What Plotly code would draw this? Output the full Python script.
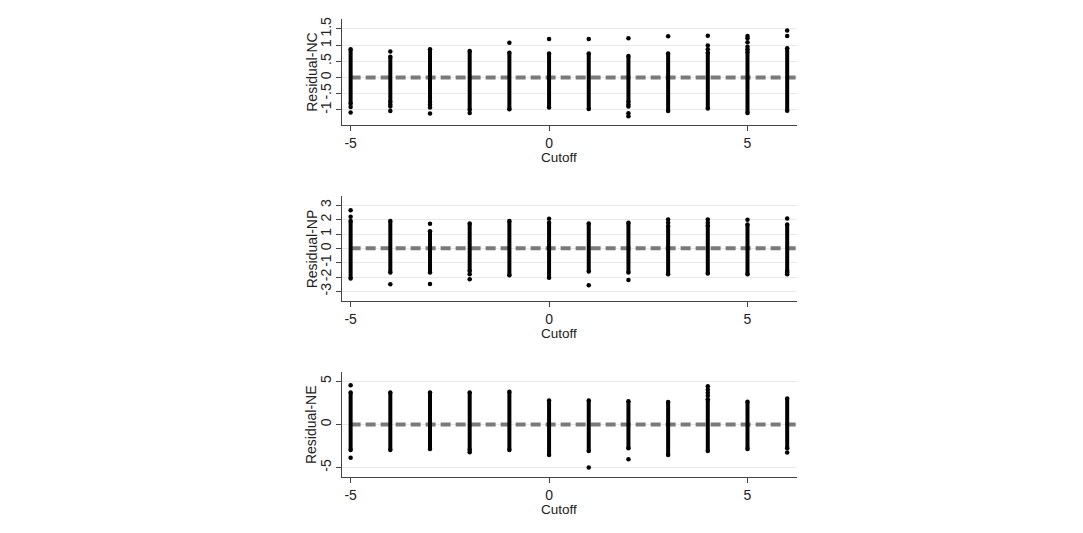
import plotly.graph_objects as go

# ---------------- data ----------------
cutoffs = [-5, -4, -3, -2, -1, 0, 1, 2, 3, 4, 5, 6]

# Residual-NC : dense core range per cutoff + isolated points
nc_low = [-0.82, -0.76, -0.76, -1.00, -0.99, -0.93, -0.98, -0.76, -1.04, -0.96, -1.10, -1.03]
nc_high = [0.87, 0.64, 0.87, 0.82, 0.76, 0.74, 0.74, 0.66, 0.74, 0.76, 0.79, 0.90]
nc_out = [[-0.92, -1.09], [0.80, -0.84, -0.90, -1.04], [-0.85, -0.93, -1.12], [-1.10],
          [1.07], [1.19], [1.19], [1.21, -0.84, -0.90, -1.11, -1.20],
          [1.27], [1.29, 0.99, 0.87], [1.28, 1.21, 1.09, 0.95, 0.87], [1.45, 1.28]]

# Residual-NP
np_low = [-2.10, -1.69, -1.69, -1.57, -1.88, -2.04, -1.62, -1.69, -1.80, -1.76, -1.80, -1.57]
np_high = [1.90, 1.90, 1.20, 1.74, 1.90, 1.78, 1.74, 1.78, 1.55, 1.60, 1.67, 1.67]
np_out = [[2.66, 2.20], [-2.50], [1.71, -2.48], [-1.80, -2.15], [], [2.06],
          [-2.57], [-2.20], [2.01, 1.78], [2.01, 1.78], [1.99], [2.08, -1.69, -1.80]]

# Residual-NE
ne_low = [-2.96, -2.96, -2.85, -2.96, -2.96, -3.54, -3.08, -2.77, -3.54, -3.08, -2.85, -2.77]
ne_high = [3.69, 3.69, 3.69, 3.69, 3.77, 2.77, 2.77, 2.69, 2.60, 2.92, 2.62, 3.00]
ne_out = [[4.54, -3.85], [], [], [-3.23], [], [], [-5.00], [-4.04], [],
          [4.42, 4.00, 3.65, 3.31], [], [-3.27]]

panel_titles = ["Residual-NC", "Residual-NP", "Residual-NE"]
x_title = "Cutoff"

x_tickvals = [-5, 0, 5]
x_ticktext = ["-5", "0", "5"]

nc_tickvals = [-1, -0.5, 0, 0.5, 1, 1.5]
nc_ticktext = ["-1", "-.5", "0", ".5", "1", "1.5"]
np_tickvals = [-3, -2, -1, 0, 1, 2, 3]
np_ticktext = ["-3", "-2", "-1", "0", "1", "2", "3"]
ne_tickvals = [-5, 0, 5]
ne_ticktext = ["-5", "0", "5"]

# ---------------- layout constants ----------------
OFF = 8  # page body margin
W, H = 1083 - 2 * OFF, 533 - 2 * OFF
X_RANGE = [-5.21, 6.24]
x_dom = [(342.3 - OFF) / W, (796.7 - OFF) / W]
panels = [
    dict(low=nc_low, high=nc_high, out=nc_out, tv=nc_tickvals, tt=nc_ticktext,
         yr=[-1.47, 1.80], top=17.3, bot=123.3),
    dict(low=np_low, high=np_high, out=np_out, tv=np_tickvals, tt=np_ticktext,
         yr=[-3.66, 3.63], top=195.0, bot=300.0),
    dict(low=ne_low, high=ne_high, out=ne_out, tv=ne_tickvals, tt=ne_ticktext,
         yr=[-6.08, 6.08], top=371.3, bot=476.7),
]

FONT = "Liberation Sans, Arial, sans-serif"
fig = go.Figure()
layout = dict(
    width=W, height=H,
    margin=dict(l=0, r=0, t=0, b=0),
    paper_bgcolor="white", plot_bgcolor="white",
    showlegend=False,
    font=dict(family=FONT, size=14, color="#222222"),
    shapes=[], annotations=[],
)

for i, p in enumerate(panels):
    n = "" if i == 0 else str(i + 1)
    xa, ya = "x" + n, "y" + n
    # dense core of each strip
    lx, ly = [], []
    for c, lo, hi in zip(cutoffs, p["low"], p["high"]):
        lx += [c, c, None]
        ly += [lo, hi, None]
    fig.add_trace(go.Scatter(x=lx, y=ly, mode="lines", xaxis=xa, yaxis=ya,
                             line=dict(color="black", width=4),
                             hoverinfo="skip"))
    # end caps + isolated points
    mx, my = [], []
    for c, lo, hi, outs in zip(cutoffs, p["low"], p["high"], p["out"]):
        mx += [c, c] + [c] * len(outs)
        my += [lo, hi] + list(outs)
    fig.add_trace(go.Scatter(x=mx, y=my, mode="markers", xaxis=xa, yaxis=ya,
                             marker=dict(color="black", size=4.5, line=dict(width=0))))

    top, bot = p["top"] - OFF, p["bot"] - OFF
    ydom = [1 - bot / H, 1 - top / H]
    layout["xaxis" + n] = dict(
        domain=x_dom, anchor=ya, range=X_RANGE,
        showgrid=False, zeroline=False,
        showline=True, linecolor="#444444", linewidth=1,
        ticks="outside", ticklen=5, tickcolor="#444444",
        tickvals=x_tickvals, ticktext=x_ticktext,
        tickfont=dict(size=14, color="#222222"),
    )
    layout["yaxis" + n] = dict(
        domain=ydom, anchor=xa, range=p["yr"],
        showgrid=True, gridcolor="#e9e9e9", gridwidth=1, zeroline=False,
        showline=True, linecolor="#444444", linewidth=1,
        ticks="outside", ticklen=5, tickcolor="#444444",
        tickvals=p["tv"], ticktext=p["tt"], tickangle=-90,
        tickfont=dict(size=14, color="#222222"),
    )
    layout["shapes"].append(dict(
        type="line", xref=xa, yref=ya, x0=-5, x1=X_RANGE[1], y0=0, y1=0,
        line=dict(color="#7a7a7a", width=4, dash="10px,5px"), layer="between"))
    # axis titles
    layout["annotations"].append(dict(
        text=x_title, xref="paper", yref="paper",
        x=(559 - OFF) / W, y=1 - (bot + 33) / H,
        showarrow=False, xanchor="center", yanchor="middle",
        font=dict(size=13.5, color="#222222")))
    layout["annotations"].append(dict(
        text=panel_titles[i], xref="paper", yref="paper",
        x=(311.7 - OFF) / W, y=1 - ((top + bot) / 2) / H,
        showarrow=False, textangle=-90, xanchor="center", yanchor="middle",
        font=dict(size=14, color="#222222")))

fig.update_layout(**layout)
fig.write_html("out.html")
